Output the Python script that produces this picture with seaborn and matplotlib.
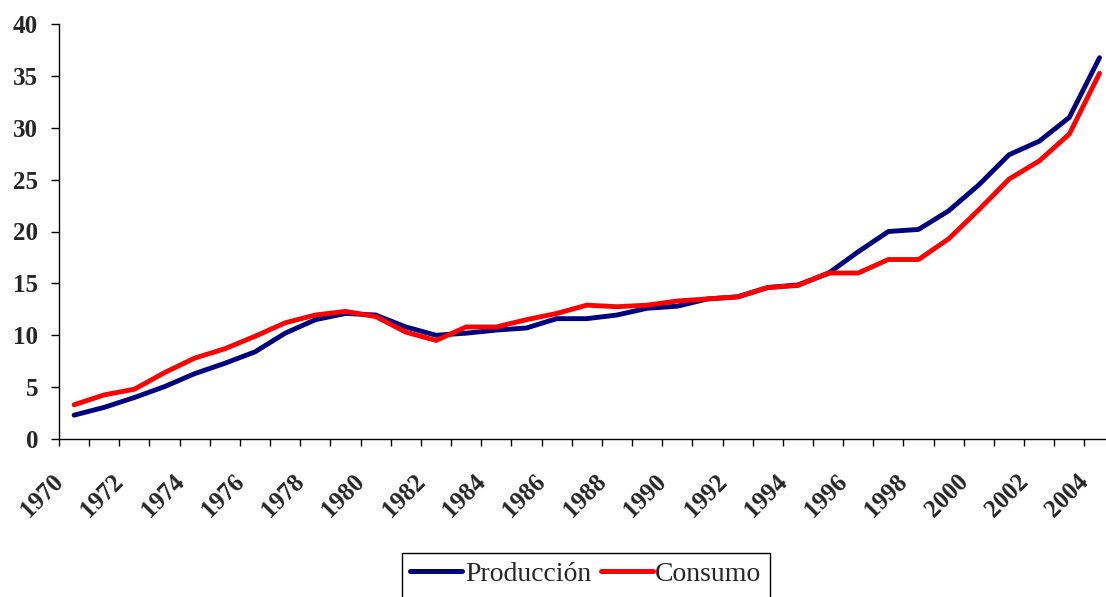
import numpy as np
import pandas as pd
import matplotlib
matplotlib.use("Agg")
import matplotlib.pyplot as plt
import matplotlib.transforms as mtransforms
from matplotlib.patches import Rectangle
import seaborn as sns

years = list(range(1970, 2005))
produccion = [2.3, 3.05, 4.0, 5.05, 6.3, 7.3, 8.4, 10.2, 11.5, 12.1, 11.95,
              10.8, 10.0, 10.2, 10.5, 10.7, 11.6, 11.6, 11.95, 12.6, 12.8,
              13.5, 13.7, 14.6, 14.85, 15.95, 18.05, 20.0, 20.2, 22.0, 24.5,
              27.4, 28.7, 31.0, 36.75]
consumo = [3.3, 4.25, 4.8, 6.4, 7.8, 8.7, 9.9, 11.2, 11.95, 12.3, 11.8,
           10.3, 9.5, 10.8, 10.8, 11.5, 12.1, 12.9, 12.75, 12.9, 13.3,
           13.5, 13.7, 14.6, 14.8, 16.0, 16.0, 17.3, 17.3, 19.3, 22.1,
           25.05, 26.8, 29.4, 35.25]
series_names = ["Producción", "Consumo"]
series_colors = ["#000080", "#FF0000"]
y_ticks = list(range(0, 41, 5))

df = pd.DataFrame({
    "year": years * 2,
    "value": produccion + consumo,
    "serie": [series_names[0]] * len(years) + [series_names[1]] * len(years),
})

sns.set_style("white")
plt.rcParams["font.family"] = ["Liberation Serif", "DejaVu Serif"]

W, H = 1106, 597
fig = plt.figure(figsize=(W / 100, H / 100), dpi=100)
# plot area runs slightly past the right edge of the canvas
ax = fig.add_axes([59 / W, 158 / H, (1114.6 - 59) / W, 415 / H])

sns.lineplot(data=df, x="year", y="value", hue="serie",
             palette=dict(zip(series_names, series_colors)),
             linewidth=3.5, ax=ax, legend=False, sort=False)
for ln in ax.get_lines():
    ln.set_solid_capstyle("round")
    ln.set_solid_joinstyle("round")

ax.set_xlim(years[0] - 0.5, years[-1] + 0.5)
ax.set_ylim(0, 40)
ax.set_xlabel("")
ax.set_ylabel("")

# tick marks sit on the category boundaries
bounds = [y - 0.5 for y in years] + [years[-1] + 0.5]
ax.set_xticks(bounds)
ax.set_xticklabels([])
ax.set_yticks(y_ticks)
ax.set_yticklabels([str(v) for v in y_ticks], fontsize=18, fontweight="bold")

ax.tick_params(axis="x", bottom=True, direction="out", length=5.2, width=1,
               color="black")
ax.tick_params(axis="y", left=True, direction="out", length=6, width=1,
               color="black", pad=9)
for side in ("top", "right"):
    ax.spines[side].set_visible(False)
for side in ("left", "bottom"):
    ax.spines[side].set_color("black")
    ax.spines[side].set_linewidth(1)

# rotated year labels for every other year, hung below each boundary tick
base = mtransforms.blended_transform_factory(ax.transData, ax.transAxes)
shift = mtransforms.ScaledTranslation(-7.5 / 100, -31 / 100, fig.dpi_scale_trans)
for yr in years[::2]:
    ax.text(yr - 0.5, 0, str(yr), transform=base + shift, rotation=45,
            ha="right", va="top", rotation_mode="anchor", fontsize=18,
            fontweight="bold", clip_on=False)

handles = [plt.Line2D([], [], color=c, linewidth=3.6, solid_capstyle="round")
           for c in series_colors]
leg = fig.legend(handles, series_names, loc="upper center",
                 bbox_to_anchor=(586 / W, 1 - 553 / H),
                 bbox_transform=fig.transFigure, ncol=2, fontsize=20,
                 frameon=False, handlelength=1.87,
                 handletextpad=0.1, columnspacing=0.33, borderpad=0.3,
                 borderaxespad=0)

# legend border: same left, right and top as the legend box, running
# down past the lower edge of the canvas
fig.canvas.draw()
bb = leg.get_window_extent().transformed(fig.transFigure.inverted())
fig.add_artist(Rectangle((bb.x0, -0.05), bb.width, bb.y1 + 0.05,
                         transform=fig.transFigure, fill=False,
                         edgecolor="black", linewidth=1, clip_on=False))

fig.savefig("out.png", dpi=100)
